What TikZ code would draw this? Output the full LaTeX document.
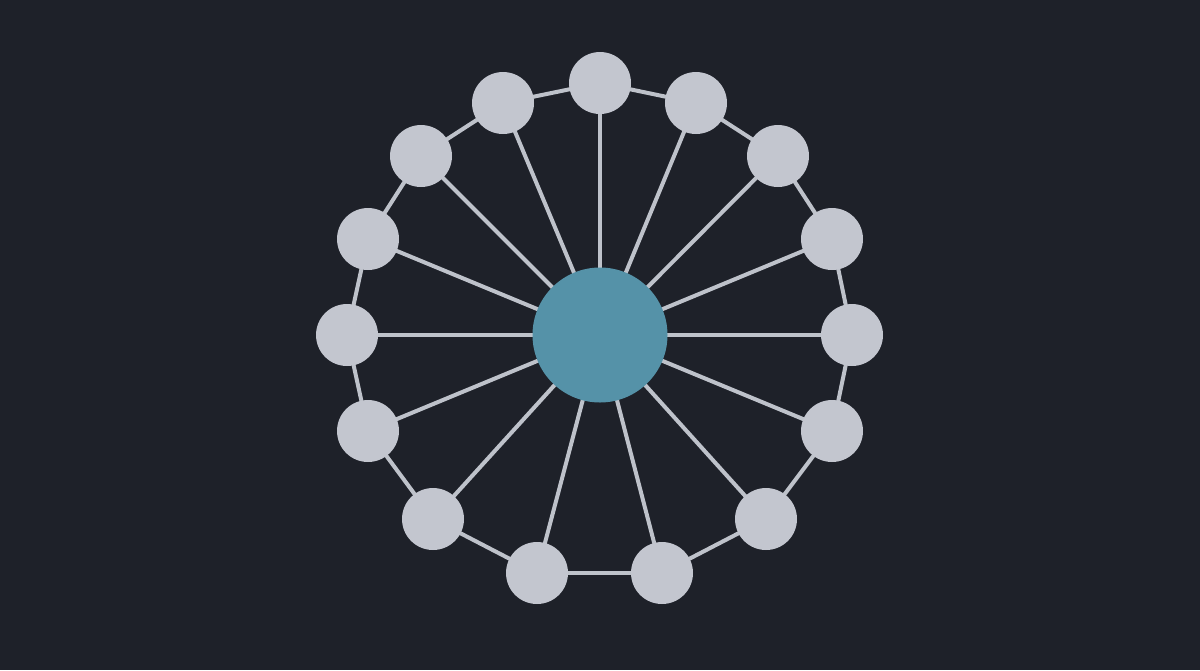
\documentclass[tikz,border=0pt]{standalone}
\pgfdeclarelayer{bgfill}
\pgfdeclarelayer{edges}
\pgfsetlayers{bgfill,edges,main}
\begin{document}
\begin{tikzpicture}[x=1pt,y=-1pt,
  leaf/.style={circle,fill=leafc,draw=none,minimum size=62pt,inner sep=0pt},
  hub/.style={circle,fill=hubc,draw=none,minimum size=135pt,inner sep=0pt},
  link/.style={draw=linkc,line width=4pt}]
\definecolor{bgc}{HTML}{1E2129}
\definecolor{leafc}{HTML}{C3C6CF}
\definecolor{hubc}{HTML}{5592A8}
\definecolor{linkc}{HTML}{BEC2CA}
\begin{pgfonlayer}{bgfill}
\fill[bgc] (0,0) rectangle (1200,670);
\end{pgfonlayer}
\useasboundingbox (0,0) rectangle (1200,670);
\node[hub] (c) at (600,335) {};
\foreach \n/\x/\y in {1/600/83, 2/696/103, 3/778/156, 4/832/239, 5/852/335, 6/832/431, 7/766/519, 8/662/573, 9/537/573, 10/433/519, 11/368/431, 12/347/335, 13/368/239, 14/421/156, 15/503/103}
  \node[leaf] (n\n) at (\x,\y) {};
\begin{pgfonlayer}{edges}
\foreach \n [evaluate=\n as \m using {int(mod(\n,15)+1)}] in {1,...,15} {
  \draw[link] (c.center) -- (n\n.center);
  \draw[link] (n\n.center) -- (n\m.center);
}
\end{pgfonlayer}
\end{tikzpicture}
\end{document}
